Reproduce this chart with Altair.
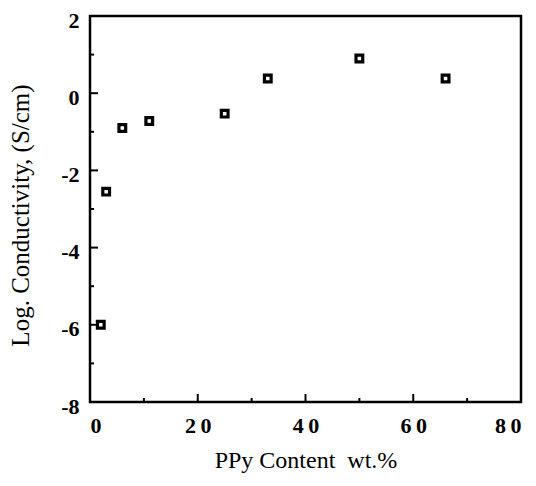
import altair as alt
import pandas as pd

ppy = [2, 3, 6, 11, 25, 33, 50, 66]
logcond = [-6.0, -2.55, -0.9, -0.72, -0.53, 0.38, 0.9, 0.38]

x_major = [0, 20, 40, 60, 80]
x_minor = [10, 30, 50, 70]
y_major = [-8, -6, -4, -2, 0, 2]
y_minor = [-7, -5, -3, -1, 1]

W, H = 431, 386
df = pd.DataFrame({"x": ppy, "y": logcond})

xs = alt.Scale(domain=[0, 80], nice=False)
ys = alt.Scale(domain=[-8, 2], nice=False)

font = "Liberation Serif"

pts = alt.Chart(df).mark_point(
    shape="square", size=45, filled=False, stroke="black", strokeWidth=3.2, fill="white", fillOpacity=1, opacity=1
).encode(
    x=alt.X("x:Q", scale=xs, axis=alt.Axis(
        title="PPy Content\u00a0\u00a0wt.%", values=x_major, ticks=False, domain=False, grid=False,
        labelExpr="join(split(toString(datum.value), ''), '\u2009')",
        labelFont=font, labelFontSize=22, labelFontWeight="bold", labelColor="black", labelPadding=13,
        titleFont=font, titleFontSize=24, titleFontWeight="normal", titleColor="black",
        titleY=65, titleBaseline="alphabetic")),
    y=alt.Y("y:Q", scale=ys, axis=alt.Axis(
        title="Log. Conductivity, (S/cm)", values=y_major, ticks=False, domain=False, grid=False,
        labelExpr="toString(datum.value)", labelOffset=4,
        labelFont=font, labelFontSize=22, labelFontWeight="bold", labelColor="black", labelPadding=11,
        titleFont=font, titleFontSize=25, titleFontWeight="normal", titleColor="black",
        titleX=-70, titleY=199, titleAngle=270, titleAlign="center", titleBaseline="middle")),
)

def xticks(vals, length):
    d = pd.DataFrame({"x": vals})
    return alt.Chart(d).mark_rule(color="black", strokeWidth=2).encode(
        x=alt.X("x:Q", scale=xs), y=alt.value(H), y2=alt.value(H - length))

def yticks(vals, length):
    d = pd.DataFrame({"y": vals})
    return alt.Chart(d).mark_rule(color="black", strokeWidth=2).encode(
        y=alt.Y("y:Q", scale=ys), x=alt.value(0), x2=alt.value(length))

chart = alt.layer(
    xticks(x_major, 8), xticks(x_minor, 4), yticks(y_major, 8), yticks(y_minor, 4), pts
).properties(
    width=W, height=H,
    autosize=alt.AutoSizeParams(type="none"),
    padding={"left": 82, "top": 8, "right": 7, "bottom": 76},
).configure(background="white").configure_view(stroke="black", strokeWidth=2.5)

chart.save("out.html", embed_options={"renderer": "svg", "actions": False})
